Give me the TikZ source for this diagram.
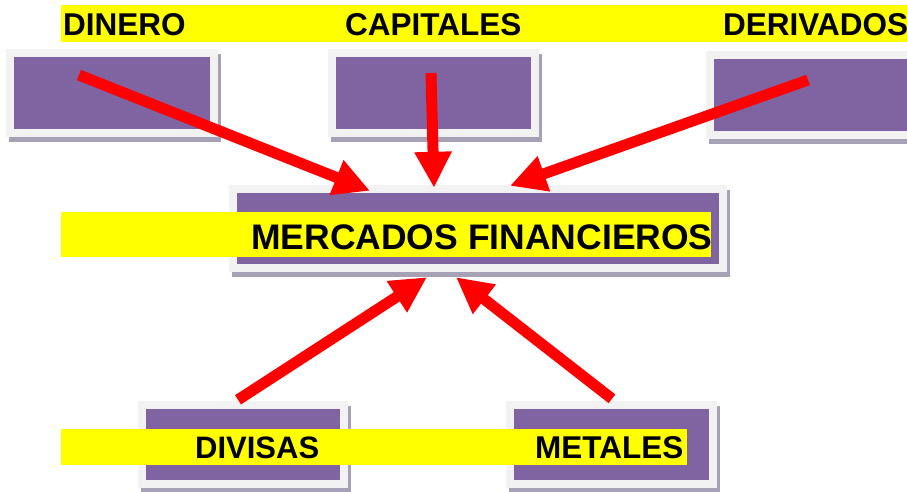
\documentclass[tikz,border=0pt]{standalone}
\usepackage{fontspec}
\setmainfont{Liberation Sans}
\usetikzlibrary{arrows.meta,shadows}
\definecolor{morado}{HTML}{8064A2}
\definecolor{marco}{HTML}{F2F2F2}
\definecolor{sombra}{HTML}{A7A1B5}
\definecolor{amarillo}{HTML}{FFFF00}
\tikzset{
  caja/.style={fill=marco,inner sep=0pt,minimum height=88pt,minimum width=211pt,
    drop shadow={shadow xshift=3pt,shadow yshift=-5pt,fill=sombra,opacity=1},
    path picture={\fill[morado] ([shift={(8pt,8pt)}]path picture bounding box.south west)
      rectangle ([shift={(-8pt,-8pt)}]path picture bounding box.north east);}},
  banda/.style={fill=amarillo,inner sep=0pt,anchor=north west},
  rotulo/.style={font=\bfseries\fontsize{31.5}{36}\selectfont,anchor=base west,inner sep=0pt},
  flecha/.style={red,line width=11pt,-{Triangle[length=36pt,width=35pt]}}
}
\begin{document}
\begin{tikzpicture}[x=1pt,y=-1pt]
  \useasboundingbox (0,0) rectangle (907,491);
  % cajas
  \node[caja,minimum width=212pt] (dinero) at (112,93) {};
  \node[caja] (capitales) at (433.5,93) {};
  \node[caja,minimum width=212pt] (derivados) at (812,94.5) {};
  \node[caja,minimum width=498pt,minimum height=87pt] (mercados) at (478,228.5) {};
  \node[caja,minimum width=210pt,minimum height=87pt] (divisas) at (243,444.5) {};
  \node[caja,minimum height=87pt] (metales) at (611.5,444.5) {};
  % bandas amarillas
  \node[banda,minimum width=846pt,minimum height=37pt] (bandaA) at (61,5) {};
  \node[banda,minimum width=650pt,minimum height=45pt] (bandaB) at (61,212) {};
  \node[banda,minimum width=626pt,minimum height=36pt] (bandaC) at (61,429) {};
  % textos
  \node[rotulo] (tDinero) at (63,35) {DINERO};
  \node[rotulo] (tCapitales) at (345,35) {CAPITALES};
  \node[rotulo] (tDerivados) at (723,35) {DERIVADOS};
  \node[rotulo,font=\bfseries\fontsize{35.5}{40}\selectfont] (tMercados) at (251,249) {MERCADOS FINANCIEROS};
  \node[rotulo,font=\bfseries\fontsize{31}{36}\selectfont] (tDivisas) at (195,458) {DIVISAS};
  \node[rotulo] (tMetales) at (535,458) {METALES};
  % flechas
  \draw[flecha] ([xshift=-33pt,yshift=18pt]dinero.center) -- ([xshift=-108pt,yshift=-6pt]mercados.north);
  \draw[flecha] ([xshift=-2.5pt,yshift=20pt]capitales.center) -- ([xshift=-44pt,yshift=-3pt]mercados.north);
  \draw[flecha] ([xshift=-4pt,yshift=14.5pt]derivados.center) -- ([xshift=32pt,yshift=-1pt]mercados.north);
  \draw[flecha] ([xshift=-5pt,yshift=1pt]divisas.north) -- ([xshift=-51pt,yshift=-5pt]mercados.south);
  \draw[flecha] ([xshift=0.5pt,yshift=2pt]metales.north) -- ([xshift=-22pt,yshift=-5pt]mercados.south);
\end{tikzpicture}
\end{document}
